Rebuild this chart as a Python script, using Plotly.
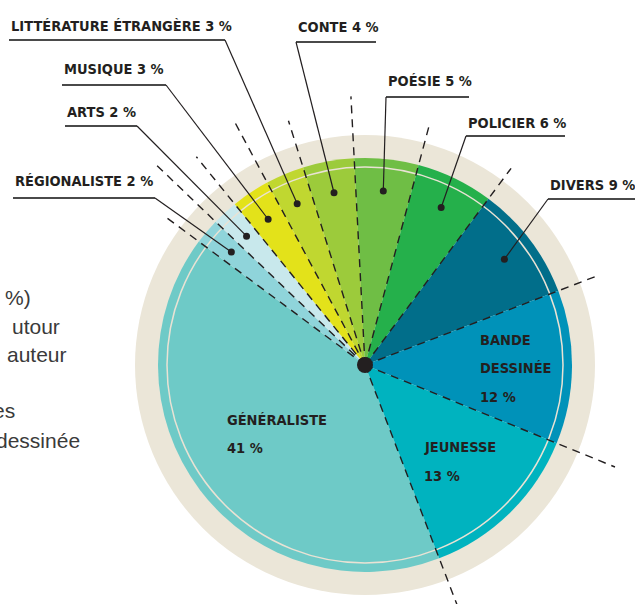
import math
import plotly.graph_objects as go

# ---------------- data ----------------
categories = ["GÉNÉRALISTE", "RÉGIONALISTE", "ARTS", "MUSIQUE", "LITTÉRATURE ÉTRANGÈRE",
              "CONTE", "POÉSIE", "POLICIER", "DIVERS", "BANDE DESSINÉE", "JEUNESSE"]
values = [41, 2, 2, 3, 3, 4, 5, 6, 9, 12, 13]
colors = ["#6ecac7", "#8fd4da", "#c8e8ec", "#e3e21a", "#c0d730",
          "#9ccb3b", "#6fbe45", "#25b04b", "#016e8a", "#0092b9", "#00b3bf"]

# partial text of the neighbouring column (cut by the frame)
side_text = ["%)", "utour", "auteur", "", "es", "dessinée"]

# ---------------- geometry / style ----------------
W, H = 635, 604
CX, CY = 365, 365
R_PIE = 207
R_RING = 230
R_INNER_LINE = 198
R_DOT = 175
ROTATION = 159
# how far each boundary dashed line extends (style), boundary i = start of slice i
ext_r = [258, 247, 290, 268, 277, 256, 269, 246, 245, 251, 270]

TXT = "#231f20"
FONT = "DejaVu Sans Condensed, Liberation Sans Narrow, sans-serif"
FS = 14.5


def pt(angle_deg, r):
    a = math.radians(angle_deg)
    return CX + r * math.sin(a), CY - r * math.cos(a)


total = sum(values)
starts, mids = [], []
acc = ROTATION
for v in values:
    starts.append(acc)
    mids.append(acc + 360 * v / total / 2)
    acc += 360 * v / total

fig = go.Figure()

fig.add_trace(go.Pie(
    values=values, labels=categories, sort=False, direction="clockwise",
    rotation=ROTATION, marker=dict(colors=colors, line=dict(width=0)),
    textinfo="none", hoverinfo="label+percent", showlegend=False,
    domain=dict(x=[(CX - R_PIE) / W, (CX + R_PIE) / W],
                y=[(H - CY - R_PIE) / H, (H - CY + R_PIE) / H]),
))
fig.add_trace(go.Scatter(x=[], y=[], showlegend=False))

shapes = []
# beige ring behind the pie
shapes.append(dict(type="circle", xref="x", yref="y", layer="below",
                   x0=CX - R_RING, x1=CX + R_RING, y0=CY - R_RING, y1=CY + R_RING,
                   fillcolor="#ebe6d8", line=dict(width=0)))
# thin inner line
shapes.append(dict(type="circle", xref="x", yref="y", layer="above",
                   x0=CX - R_INNER_LINE, x1=CX + R_INNER_LINE,
                   y0=CY - R_INNER_LINE, y1=CY + R_INNER_LINE,
                   line=dict(color="#e9e2d4", width=1.5)))
# dashed boundaries
for s, re in zip(starts, ext_r):
    x1, y1 = pt(s, re)
    shapes.append(dict(type="line", xref="x", yref="y", layer="above",
                       x0=CX, y0=CY, x1=x1, y1=y1,
                       line=dict(color=TXT, width=1.4, dash="8px,6px")))

annotations = []
label_font = dict(family=FONT, size=FS, color=TXT, weight="bold")

# outside labels: (category index, text x, text y, underline y, underline x0, x1, leader from right?)
outside = [
    (4, 9, 26, 40, 9, 225, True),
    (3, 62, 69, 85, 62, 166, True),
    (2, 65, 112, 126, 65, 137, True),
    (1, 13, 181, 198, 13, 155, True),
    (5, 296, 27, 42, 296, 376, False),
    (6, 386, 81, 97, 386, 469, False),
    (7, 466, 123, 136, 466, 565, False),
    (8, 548, 185, 199, 548, 635, False),
]
for idx, tx, ty, uy, ux0, ux1, right in outside:
    annotations.append(dict(xref="x", yref="y", x=tx, y=ty, xanchor="left", yanchor="middle",
                            text=f"{categories[idx]} {values[idx]} %", showarrow=False,
                            font=label_font))
    shapes.append(dict(type="line", xref="x", yref="y", layer="above",
                       x0=ux0, x1=ux1, y0=uy, y1=uy, line=dict(color="#4a4a4a", width=2)))
    dx, dy = pt(mids[idx], R_DOT)
    sx = ux1 if right else ux0
    shapes.append(dict(type="line", xref="x", yref="y", layer="above",
                       x0=sx, y0=uy, x1=dx, y1=dy, line=dict(color=TXT, width=1.2)))
    shapes.append(dict(type="circle", xref="x", yref="y", layer="above",
                       x0=dx - 3.5, x1=dx + 3.5, y0=dy - 3.5, y1=dy + 3.5,
                       fillcolor=TXT, line=dict(width=0)))

# inside labels (lines split for spacing)
inside = [
    (0, 225, [420, 448], ["GÉNÉRALISTE"]),
    (10, 422, [447, 476], ["JEUNESSE"]),
    (9, 478, [340, 368, 397], ["BANDE", "DESSINÉE"]),
]
for idx, tx, ys, words in inside:
    lines = words + [f"{values[idx]} %"]
    for line, y in zip(lines, ys):
        annotations.append(dict(xref="x", yref="y", x=tx, y=y, xanchor="left", yanchor="middle",
                                text=line, showarrow=False, font=label_font))

# centre dot
shapes.append(dict(type="circle", xref="x", yref="y", layer="above",
                   x0=CX - 8, x1=CX + 8, y0=CY - 8, y1=CY + 8,
                   fillcolor=TXT, line=dict(width=0)))

# partial side text
side_x = [33, 62, 69, 0, 17, 82]
side_y = [297, 326, 354, 382, 410, 440]
for t, x, y in zip(side_text, side_x, side_y):
    if t:
        annotations.append(dict(xref="x", yref="y", x=x, y=y, xanchor="right", yanchor="middle",
                                text=t, showarrow=False,
                                font=dict(family="Liberation Sans, Arial, sans-serif",
                                          size=21, color="#3a3a3a")))

fig.update_layout(
    width=W, height=H, margin=dict(l=0, r=0, t=0, b=0),
    paper_bgcolor="white", plot_bgcolor="rgba(0,0,0,0)",
    xaxis=dict(range=[0, W], visible=False, fixedrange=True, domain=[0, 1]),
    yaxis=dict(range=[H, 0], visible=False, fixedrange=True, domain=[0, 1]),
    shapes=shapes, annotations=annotations, showlegend=False,
)

fig.write_html("out.html", config={"displayModeBar": False},
               post_script="document.body.style.margin='0';")
